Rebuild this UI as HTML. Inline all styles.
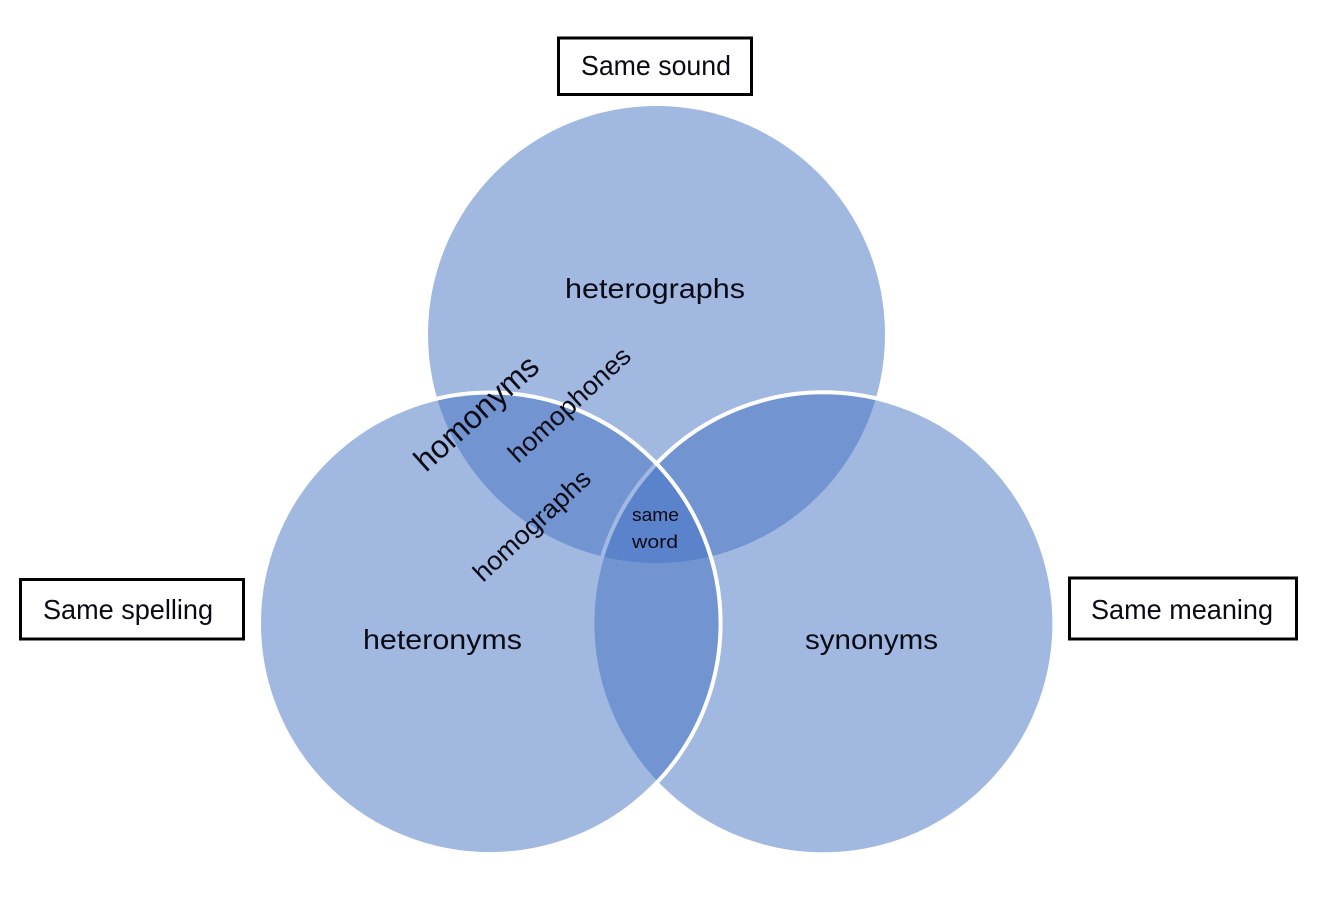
<!DOCTYPE html>
<html>
<head>
<meta charset="utf-8">
<style>
html,body{margin:0;padding:0;background:#fff;width:1324px;height:903px;overflow:hidden}
svg{display:block}
text{font-family:"Liberation Sans",sans-serif;fill:#0a0a14}
</style>
</head>
<body>
<svg width="1324" height="903" viewBox="0 0 1324 903" xmlns="http://www.w3.org/2000/svg">
<rect width="1324" height="903" fill="#fff"/>
<circle cx="656.5" cy="334.5" r="228.5" fill="#4472C4" fill-opacity="0.5"/>
<circle cx="823.4" cy="623.3" r="231" fill="#4472C4" fill-opacity="0.5" stroke="#fff" stroke-width="4"/>
<circle cx="489.8" cy="623.3" r="230.8" fill="#4472C4" fill-opacity="0.5" stroke="#fff" stroke-width="4"/>

<rect x="558.5" y="38" width="193" height="56.5" fill="#fff" stroke="#000" stroke-width="3"/>
<rect x="20.5" y="579.5" width="223" height="59.5" fill="#fff" stroke="#000" stroke-width="3"/>
<rect x="1069.5" y="578" width="227" height="61" fill="#fff" stroke="#000" stroke-width="3"/>

<text x="581" y="75" font-size="28" textLength="150" lengthAdjust="spacingAndGlyphs">Same sound</text>
<text x="43" y="619" font-size="28" textLength="170" lengthAdjust="spacingAndGlyphs">Same spelling</text>
<text x="1091" y="619" font-size="28" textLength="182" lengthAdjust="spacingAndGlyphs">Same meaning</text>

<text x="565" y="298" font-size="28" textLength="180" lengthAdjust="spacingAndGlyphs">heterographs</text>
<text x="363" y="649" font-size="28" textLength="159" lengthAdjust="spacingAndGlyphs">heteronyms</text>
<text x="805" y="649" font-size="28" textLength="133" lengthAdjust="spacingAndGlyphs">synonyms</text>

<text x="632" y="521" font-size="18" textLength="47" lengthAdjust="spacingAndGlyphs">same</text>
<text x="632" y="548" font-size="18" textLength="46" lengthAdjust="spacingAndGlyphs">word</text>

<text transform="translate(426 473) rotate(-42)" font-size="32" textLength="155" lengthAdjust="spacingAndGlyphs">homonyms</text>
<text transform="translate(518 464) rotate(-42.7)" font-size="26" textLength="156" lengthAdjust="spacingAndGlyphs">homophones</text>
<text transform="translate(483 583) rotate(-43)" font-size="26" textLength="150" lengthAdjust="spacingAndGlyphs">homographs</text>
</svg>
</body>
</html>
